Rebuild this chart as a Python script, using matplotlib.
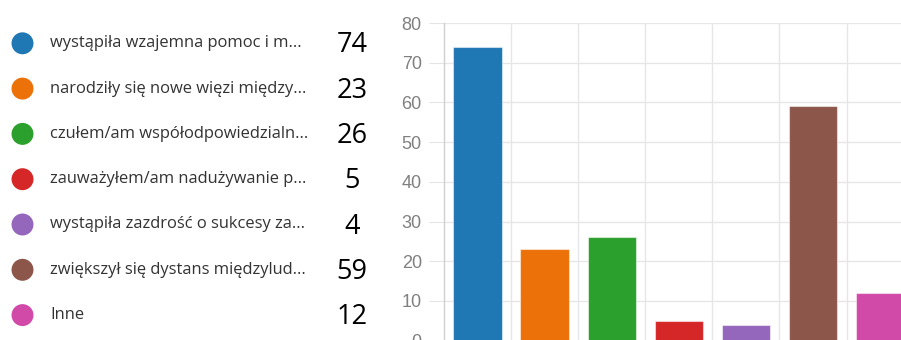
import matplotlib.pyplot as plt
import numpy as np

# ---------- Dane ----------
labels = [
  'wystąpiła wzajemna pomoc i m...',
  'narodziły się nowe więzi między...',
  'czułem/am współodpowiedzialn...',
  'zauważyłem/am nadużywanie p...',
  'wystąpiła zazdrość o sukcesy za...',
  'zwiększył się dystans międzylud...',
  'Inne',
]
counts = [74, 23, 26, 5, 4, 59, 12]
colors = ['#1f77b4', '#ec7108', '#2ca02c', '#d62728', '#9467bd', '#8c564b', '#d24aa8']
yticks = [0, 10, 20, 30, 40, 50, 60, 70, 80]

W, H = 901, 340
fig = plt.figure(figsize=(W / 100, H / 100), dpi=100)

# ---------- Legenda po lewej ----------
leg = fig.add_axes([0, 0, 380 / W, 1])
leg.set_xlim(0, 380)
leg.set_ylim(H, 0)
leg.axis('off')
row_y = 43.3 + 45.3 * np.arange(len(labels))
leg.scatter(np.full(len(labels), 22.5), row_y, s=250, c=colors, edgecolors='none')
for y, lab, n in zip(row_y, labels, counts):
  leg.text(50, y, lab, fontsize=11.9, family=['Open Sans', 'DejaVu Sans'], color='#333333', va='center', ha='left')
  leg.text(352, y + 2, str(n), fontsize=19.5, family=['Open Sans', 'DejaVu Sans'], color='#000000', va='center', ha='center')

# ---------- Wykres słupkowy ----------
left_px, cat_w = 444, 67.1
top_px, zero_px = 23, 340.6
ax = fig.add_axes([left_px / W, (H - zero_px) / H, len(counts) * cat_w / W, (zero_px - top_px) / H])
x = np.arange(len(counts))
ax.bar(x, counts, width=0.72, color=colors, edgecolor=(1, 1, 1, 0.5), linewidth=0.8, zorder=3)
ax.set_xlim(-0.5, len(counts) - 0.5)
ax.set_ylim(0, 80)
ax.set_yticks(yticks)
ax.set_xticks(x[:-1] + 0.5)
ax.set_xticklabels([])
ax.tick_params(axis='x', length=0)
ax.tick_params(axis='y', length=11, color='#e4e4e4', labelcolor='#808080', labelsize=13, pad=5)
for t in ax.get_yticklabels():
  t.set_family(['Liberation Sans', 'DejaVu Sans'])
ax.grid(True, color='#e6e6e6', linewidth=1, zorder=0)
for s in ['top', 'right', 'bottom']:
  ax.spines[s].set_visible(False)
ax.spines['left'].set_color('#d0d0d0')
ax.spines['left'].set_linewidth(1)

fig.savefig('out.png', dpi=100)
